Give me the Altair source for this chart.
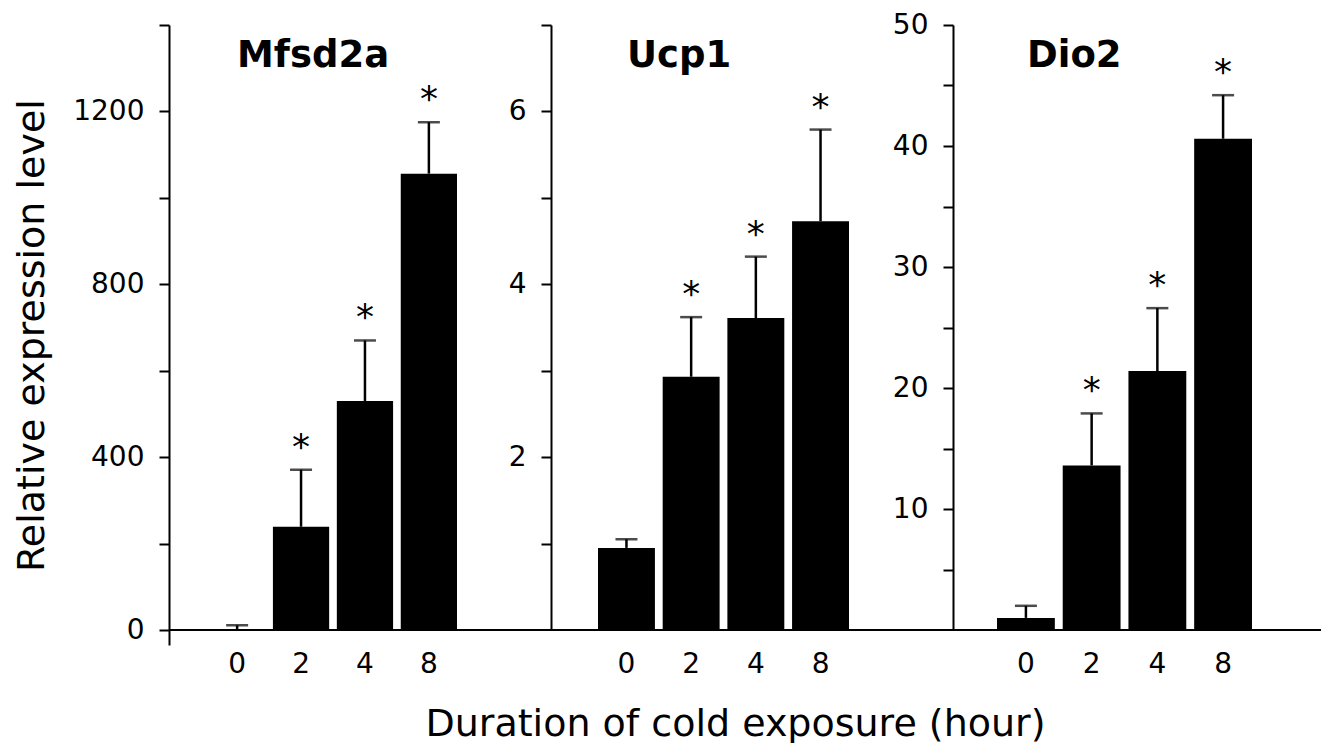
import altair as alt
import pandas as pd

FONT = "DejaVu Sans"

# ---------------- data ----------------
HOURS = ["0", "2", "4", "8"]
SIG = ["", "*", "*", "*"]

MFSD2A_MEAN = [2, 239, 530, 1056]
MFSD2A_SEM = [9, 132, 140, 119]

UCP1_MEAN = [0.95, 2.93, 3.61, 4.73]
UCP1_SEM = [0.10, 0.69, 0.71, 1.06]

DIO2_MEAN = [1.0, 13.6, 21.4, 40.6]
DIO2_SEM = [1.0, 4.3, 5.2, 3.6]

MFSD2A_TICKS = [0, 200, 400, 600, 800, 1000, 1200, 1400]
MFSD2A_LABELS = [0, 400, 800, 1200]
UCP1_TICKS = [1, 2, 3, 4, 5, 6, 7]
UCP1_LABELS = [2, 4, 6]
DIO2_TICKS = [5, 10, 15, 20, 25, 30, 35, 40, 45, 50]
DIO2_LABELS = [10, 20, 30, 40, 50]

X_TITLE = "Duration of cold exposure (hour)"
Y_TITLE = "Relative expression level"

PLOT_H = 605  # from top of plot to the zero line


def panel(gene, means, sems, ymax, ticks, labeled, width, bar_range,
          title_dx, extend_px, xlabel_pad, y_title=None, x_title=None, x_title_x=0):
    df = pd.DataFrame({
        "hour": HOURS,
        "mean": means,
        "upper": [m + s for m, s in zip(means, sems)],
        "sig": SIG,
    })
    lo = -ymax * extend_px / PLOT_H
    yscale = alt.Scale(domain=[lo, ymax], nice=False, zero=False)
    xscale = alt.Scale(domain=HOURS, paddingInner=0.12, paddingOuter=0, range=bar_range)

    label_expr = f"indexof({list(labeled)}, datum.value) >= 0 ? datum.label : ''"
    yaxis_kw = dict(
        values=ticks, labelExpr=label_expr, format="d", grid=False,
        domainColor="black", domainWidth=2, tickColor="black", tickWidth=2,
        tickSize=10, labelPadding=15, labelFontSize=28, labelFont=FONT,
        labelColor="black",
    )
    if y_title:
        yaxis_kw.update(title=y_title, titleFontSize=38, titleFont=FONT,
                        titleFontWeight="normal", titleColor="black", titlePadding=21)
    else:
        yaxis_kw.update(title=None)
    yaxis = alt.Axis(**yaxis_kw)

    xaxis_kw = dict(
        labelAngle=0, domain=False, ticks=False, tickSize=0, labelPadding=xlabel_pad,
        labelFontSize=28, labelFont=FONT, labelColor="black",
    )
    if x_title:
        xaxis_kw.update(title=x_title, titleFontSize=38, titleFont=FONT,
                        titleFontWeight="normal", titleColor="black",
                        titleX=x_title_x, titlePadding=27)
    else:
        xaxis_kw.update(title=None)
    xaxis = alt.Axis(**xaxis_kw)

    base = alt.Chart(df).encode(x=alt.X("hour:N", scale=xscale, sort=HOURS, axis=xaxis))
    bars = base.mark_bar(color="black").encode(y=alt.Y("mean:Q", scale=yscale, axis=yaxis))
    err = base.mark_rule(color="black", strokeWidth=2.5).encode(y="mean:Q", y2="upper:Q")
    caps = base.mark_tick(color="black", thickness=2.5, size=22, orient="horizontal").encode(
        y="upper:Q")
    stars = base.mark_text(font=FONT, fontSize=36, baseline="alphabetic", dy=-11,
                           color="black").encode(y="upper:Q", text="sig:N")
    zero = alt.Chart(pd.DataFrame({"z": [0]})).mark_rule(color="black", strokeWidth=2).encode(
        y=alt.datum(0))
    title = alt.Chart(pd.DataFrame({"g": [gene]})).mark_text(
        font=FONT, fontSize=37, fontWeight="bold", align="left", baseline="alphabetic",
        color="black").encode(x=alt.value(title_dx), y=alt.value(42), text="g:N")

    return alt.layer(bars, err, caps, stars, zero, title).properties(
        width=width, height=PLOT_H + extend_px)


p1 = panel("Mfsd2a", MFSD2A_MEAN, MFSD2A_SEM, 1400, MFSD2A_TICKS, MFSD2A_LABELS,
           width=382, bar_range=[40, 288], title_dx=68, extend_px=15,
           xlabel_pad=5, y_title=Y_TITLE)
p2 = panel("Ucp1", UCP1_MEAN, UCP1_SEM, 7, UCP1_TICKS, UCP1_LABELS,
           width=402, bar_range=[47, 298], title_dx=76, extend_px=0,
           xlabel_pad=20, x_title=X_TITLE, x_title_x=184)
p3 = panel("Dio2", DIO2_MEAN, DIO2_SEM, 50, DIO2_TICKS, DIO2_LABELS,
           width=368, bar_range=[44, 299], title_dx=74, extend_px=0,
           xlabel_pad=20)

chart = alt.hconcat(p1, p2, p3, spacing=0, bounds="flush").configure_view(
    stroke=None).properties(padding={"left": 5, "top": 3, "right": 0, "bottom": 0})

chart.save("out.html", embed_options={"renderer": "svg", "actions": False})
